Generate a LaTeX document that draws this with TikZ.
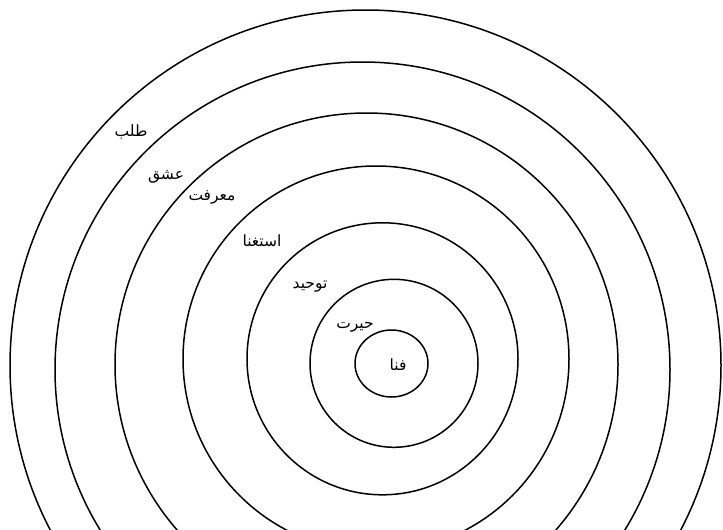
\documentclass[tikz,border=0pt]{standalone}
\usepackage{fontspec}
\newfontfamily\arabicfont[Script=Arabic]{DejaVu Sans}
\TeXXeTstate=1
\begin{document}
\begin{tikzpicture}[x=1pt,y=-1pt,
  ring/.style={draw=black,line width=1.5pt},
  lbl/.style={inner sep=0pt,font=\arabicfont\fontsize{15.5}{18}\selectfont}]
\useasboundingbox (0,0) rectangle (723,530);
\fill[white] (0,0) rectangle (723,530);
\clip (0,0) rectangle (723,530);
\draw[ring] (365.5,365.5) ellipse [x radius=355.5, y radius=355.5];
\draw[ring] (362.5,369.5) ellipse [x radius=307.5, y radius=307.5];
\draw[ring] (366.5,364.5) ellipse [x radius=251.5, y radius=251.5];
\draw[ring] (376,359) ellipse [x radius=193, y radius=193];
\draw[ring] (382.5,358.8) ellipse [x radius=135.5, y radius=136];
\draw[ring] (394,363.3) ellipse [x radius=84, y radius=84];
\draw[ring] (391.5,363.5) ellipse [x radius=36.5, y radius=33.5];
\node[lbl] (talab) at (131,132) {\beginR طلب\endR};
\node[lbl] (eshgh) at (166,177) {\beginR عشق\endR};
\node[lbl] (marefat) at (212,197) {\beginR معرفت\endR};
\node[lbl] (esteghna) at (262,241) {\beginR استغنا\endR};
\node[lbl] (tohid) at (310,287) {\beginR توحيد\endR};
\node[lbl] (heyrat) at (355,327) {\beginR حيرت\endR};
\node[lbl] (fana) at (398,365) {\beginR فنا\endR};
\end{tikzpicture}
\end{document}
